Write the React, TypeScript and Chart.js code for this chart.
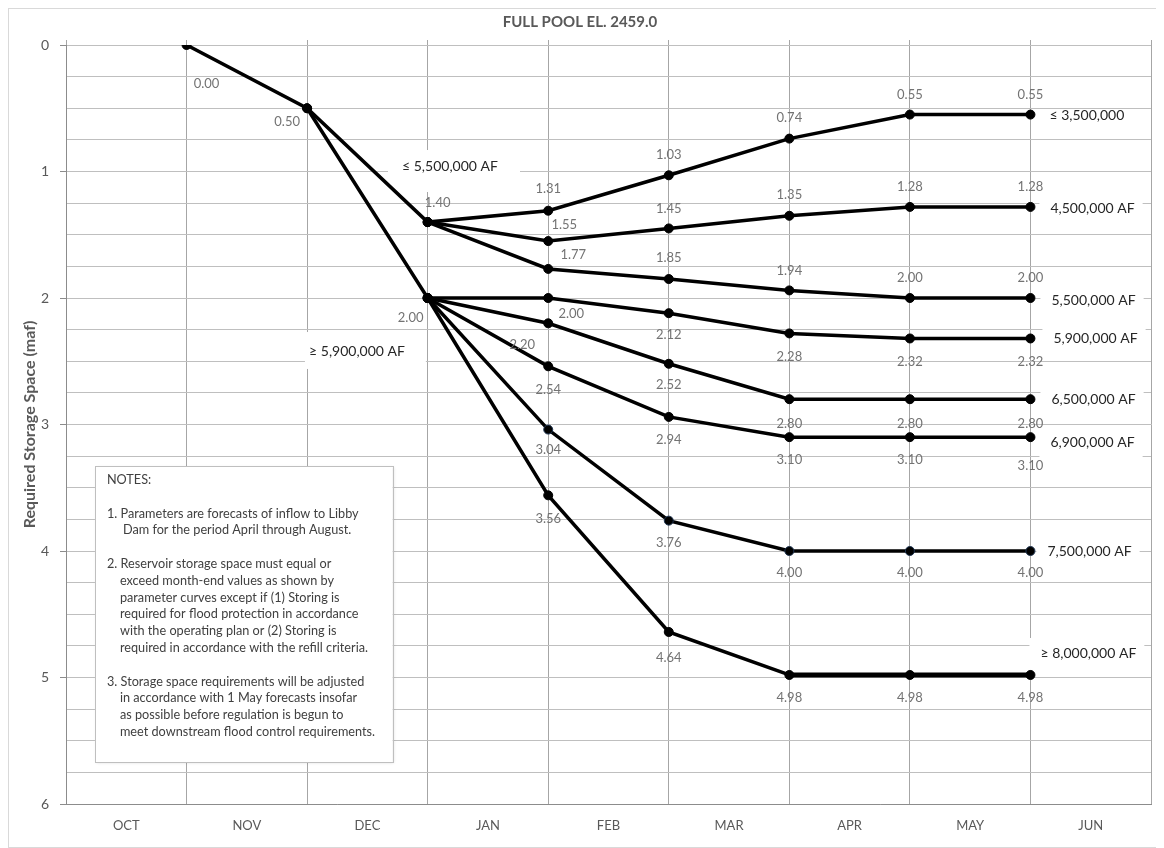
import React, { useEffect, useRef } from 'react';
import { Chart, registerables } from 'chart.js';

Chart.register(...registerables);

const FONT = 'Lato, "Open Sans", "DejaVu Sans", sans-serif';

// ---- data ----
const months = ['OCT', 'NOV', 'DEC', 'JAN', 'FEB', 'MAR', 'APR', 'MAY', 'JUN'];
const monthEnds = [1, 2, 3, 4, 5, 6, 7, 8];

const seriesNames = [
  '≤ 3,500,000',
  '4,500,000 AF',
  '5,500,000 AF',
  '5,900,000 AF',
  '6,500,000 AF',
  '6,900,000 AF',
  '7,500,000 AF',
  '≥ 8,000,000 AF',
];

const s35 = [0.0, 0.5, 1.4, 1.31, 1.03, 0.74, 0.55, 0.55];
const s45 = [null, null, 1.4, 1.55, 1.45, 1.35, 1.28, 1.28];
const s55 = [null, null, 1.4, 1.77, 1.85, 1.94, 2.0, 2.0];
const s59 = [null, 0.5, 2.0, 2.0, 2.12, 2.28, 2.32, 2.32];
const s65 = [null, null, 2.0, 2.2, 2.52, 2.8, 2.8, 2.8];
const s69 = [null, null, 2.0, 2.54, 2.94, 3.1, 3.1, 3.1];
const s75 = [null, null, 2.0, 3.04, 3.76, 4.0, 4.0, 4.0];
const s80 = [null, null, 2.0, 3.56, 4.64, 4.98, 4.98, 4.98];
const allSeries: (number | null)[][] = [s35, s45, s55, s59, s65, s69, s75, s80];

const chartTitle = 'FULL POOL EL. 2459.0';
const yTitle = 'Required Storage Space (maf)';
const splitLabels = ['≤ 5,500,000 AF', '≥ 5,900,000 AF'];
const notesLines = [
  'NOTES:',
  '',
  '1. Parameters are forecasts of inflow to Libby',
  'Dam for the period April through August.',
  '',
  '2. Reservoir storage space must equal or',
  'exceed month-end values as shown by',
  'parameter curves except if (1) Storing is',
  'required for flood protection in accordance',
  'with the operating plan or (2) Storing is',
  'required in accordance with the refill criteria.',
  '',
  '3. Storage space requirements will be adjusted',
  'in accordance with 1 May forecasts insofar',
  'as possible before regulation is begun to',
  'meet downstream flood control requirements.',
];

// ---- styling / placement (not data) ----
const notesIndent = [0, 0, 0, 16, 0, 0, 13, 13, 13, 13, 13, 0, 0, 13, 13, 13];
type Off = [number, number] | null;
const labelOffsets: Off[][] = [
  [[20, 39], [-20, 14], [10, -19], [0, -22], [0, -20], [0, -21], [0, -20], [0, -20]],
  [null, null, null, [16, -16], [0, -20], [0, -21], [0, -20], [0, -20]],
  [null, null, null, [25, -14], [0, -21], [0, -20], [0, -20], [0, -20]],
  [null, null, [-17, 20], [23, 16], [0, 22], [0, 23], [0, 23], [0, 23]],
  [null, null, null, [-26, 22], [0, 21], [0, 25], [0, 25], [0, 25]],
  [null, null, null, [0, 24], [0, 23], [0, 23], [0, 23], [0, 29]],
  [null, null, null, [0, 20], [0, 22], [0, 22], [0, 22], [0, 22]],
  [null, null, null, [0, 23], [0, 26], [0, 23], [0, 23], [0, 23]],
];
// [dx, dy, boxed]
const seriesLabelPos: [number, number, boolean][] = [
  [19, 1, false],
  [20, 2, true],
  [21, 2, true],
  [23, 0, true],
  [21, 0, true],
  [20, 5, true],
  [17, 0, true],
  [10, -21, true],
];
// anchors in scale values: text x,y ; box x1,y1,x2,y2
const splitLabelPos = [
  { x: 3.185, y: 0.964, box: [2.671, 0.83, 3.766, 1.162] },
  { x: 2.414, y: 2.419, box: [1.982, 2.269, 2.985, 2.561] },
];
const notesBox = [0.24, 3.328, 2.71, 5.668];

const overlay = {
  id: 'overlay',
  beforeDatasetsDraw(chart: any) {
    const { ctx, chartArea } = chart;
    const xs = chart.scales.x;
    const ys = chart.scales.y;
    const px = (v: number) => xs.getPixelForValue(v);
    const py = (v: number) => ys.getPixelForValue(v);
    ctx.save();

    // split labels
    ctx.font = `14px ${FONT}`;
    splitLabels.forEach((t, i) => {
      const p = splitLabelPos[i];
      const [bx1, by1, bx2, by2] = p.box;
      ctx.fillStyle = '#ffffff';
      ctx.fillRect(px(bx1), py(by1), px(bx2) - px(bx1), py(by2) - py(by1));
      ctx.fillStyle = '#262626';
      ctx.textAlign = 'center';
      ctx.textBaseline = 'middle';
      ctx.fillText(t, px(p.x), py(p.y));
    });

    // series labels
    seriesNames.forEach((name, si) => {
      const meta = chart.getDatasetMeta(si);
      const last = meta.data[meta.data.length - 1];
      const [dx, dy, boxed] = seriesLabelPos[si];
      const tx = last.x + dx;
      const ty = last.y + dy;
      ctx.font = `14px ${FONT}`;
      const w = ctx.measureText(name).width;
      if (boxed) {
        const x1 = tx - 11;
        const x2 = Math.min(tx + w + 8, chartArea.right - 3);
        ctx.fillStyle = '#ffffff';
        ctx.fillRect(x1, ty - 16, x2 - x1, 32);
      }
      ctx.fillStyle = '#262626';
      ctx.textAlign = 'left';
      ctx.textBaseline = 'middle';
      ctx.fillText(name, tx, ty);
    });

    // notes box
    const [nx1, ny1, nx2, ny2] = notesBox;
    const bx = px(nx1), by = py(ny1), bw = px(nx2) - px(nx1), bh = py(ny2) - py(ny1);
    ctx.save();
    ctx.shadowColor = 'rgba(0,0,0,0.18)';
    ctx.shadowBlur = 3;
    ctx.shadowOffsetX = 1;
    ctx.shadowOffsetY = 1;
    ctx.fillStyle = '#ffffff';
    ctx.fillRect(bx, by, bw, bh);
    ctx.restore();
    ctx.strokeStyle = '#bfbfbf';
    ctx.lineWidth = 1;
    ctx.strokeRect(Math.round(bx) + 0.5, Math.round(by) + 0.5, Math.round(bw), Math.round(bh));
    ctx.font = `12.7px ${FONT}`;
    ctx.fillStyle = '#404040';
    ctx.textAlign = 'left';
    ctx.textBaseline = 'middle';
    notesLines.forEach((line, i) => {
      if (!line) return;
      ctx.fillText(line, bx + 12 + notesIndent[i], by + 14 + i * 16.8);
    });

    ctx.restore();
  },
  afterDatasetsDraw(chart: any) {
    const { ctx } = chart;
    ctx.save();
    ctx.font = `13px ${FONT}`;
    ctx.fillStyle = '#737373';
    ctx.textAlign = 'center';
    ctx.textBaseline = 'middle';
    allSeries.forEach((vals, si) => {
      const meta = chart.getDatasetMeta(si);
      vals.forEach((v, i) => {
        const off = labelOffsets[si][i];
        if (v == null || !off) return;
        const el = meta.data[i];
        ctx.fillText(v.toFixed(2), el.x + off[0], el.y + off[1]);
      });
    });
    ctx.restore();
  },
};

export default function App() {
  const ref = useRef<HTMLCanvasElement | null>(null);
  useEffect(() => {
    if (!ref.current) return;
    const datasets = allSeries.map((vals, si) => ({
      label: seriesNames[si],
      data: monthEnds.map((x, i) => ({ x, y: vals[i] })),
      borderColor: '#000000',
      backgroundColor: '#000000',
      borderWidth: 3.5,
      segment: si === 7 ? { borderWidth: (c: any) => (c.p0DataIndex >= 5 ? 5 : 3.5) } : undefined,
      pointRadius: 4.5,
      pointBorderWidth: 1,
      pointBackgroundColor: '#000000',
      pointBorderColor: si === 6 ? '#1f3552' : '#000000',
      tension: 0,
      spanGaps: false,
      xAxisID: 'x',
      yAxisID: 'y',
    }));
    const chart = new Chart(ref.current, {
      type: 'line',
      data: { labels: months, datasets: datasets as any },
      options: {
        animation: false,
        responsive: false,
        devicePixelRatio: 1,
        layout: { padding: { left: 0, right: 6, top: 0, bottom: 0 } },
        plugins: {
          legend: { display: false },
          tooltip: { enabled: false },
          title: {
            display: true,
            text: chartTitle,
            color: '#595959',
            font: { family: FONT, size: 15, weight: 'bold' },
            padding: { top: 4, bottom: 9 },
          },
        },
        scales: {
          x: {
            type: 'linear',
            position: 'bottom',
            min: 0,
            max: 9,
            ticks: { display: false, stepSize: 1 },
            grid: { color: '#a6a6a6', drawTicks: false },
            border: { color: '#8c8c8c' },
            afterFit: (s: any) => { s.height = 0; },
          },
          xTop: {
            type: 'linear',
            position: 'top',
            min: 0,
            max: 9,
            ticks: { display: false, stepSize: 1 },
            grid: { drawOnChartArea: false, tickLength: 5, color: '#a6a6a6' },
            border: { display: false },
            afterFit: (s: any) => { s.height = 5; },
          },
          x2: {
            type: 'category',
            position: 'bottom',
            labels: months,
            offset: true,
            grid: { display: false, drawTicks: false },
            border: { display: false },
            ticks: { color: '#595959', font: { family: FONT, size: 13 }, padding: 14 },
            afterFit: (s: any) => { s.height = 43; },
          },
          y: {
            type: 'linear',
            reverse: true,
            min: 0,
            max: 6,
            ticks: {
              stepSize: 0.25,
              autoSkip: false,
              color: '#595959',
              font: { family: FONT, size: 14 },
              padding: 11,
              callback: (v: any) => (Number.isInteger(v) ? String(v) : ''),
            },
            grid: {
              color: '#bfbfbf',
              tickLength: 6,
              tickColor: (c: any) => (c.tick && Number.isInteger(c.tick.value) ? '#8c8c8c' : 'rgba(0,0,0,0)'),
            },
            border: { color: '#8c8c8c' },
            title: {
              display: true,
              text: yTitle,
              color: '#595959',
              font: { family: FONT, size: 16, weight: 'bold' },
              padding: { top: 11, bottom: 0 },
            },
            afterFit: (s: any) => { s.width = 57; },
          },
        },
      } as any,
      plugins: [overlay],
    });
    return () => chart.destroy();
  }, []);
  return (
    <div style={{ width: 1148, height: 838, border: '1px solid #d9d9d9', background: '#fff' }}>
      <canvas ref={ref} width={1148} height={838} style={{ display: 'block' }} />
    </div>
  );
}
